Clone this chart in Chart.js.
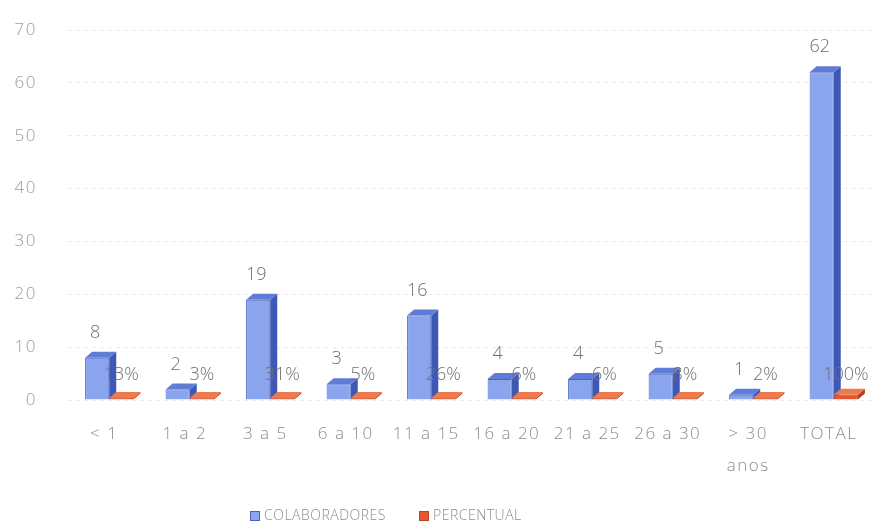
<!DOCTYPE html>
<html>
<head>
<meta charset="utf-8">
<script src="https://cdn.jsdelivr.net/npm/chart.js@4/dist/chart.umd.min.js"></script>
<style>
  html, body { margin: 0; padding: 0; background: #fff; }
  #wrap { width: 875px; height: 528px; position: relative; }
</style>
</head>
<body>
<div id="wrap"><canvas id="chart"></canvas></div>
<script>
const categories = ['< 1', '1 a 2', '3 a 5', '6 a 10', '11 a 15', '16 a 20', '21 a 25', '26 a 30', ['> 30', 'anos'], 'TOTAL']
const colaboradores = [8, 2, 19, 3, 16, 4, 4, 5, 1, 62]
const percentual = [0.13, 0.03, 0.31, 0.05, 0.26, 0.06, 0.06, 0.08, 0.02, 1]
const percentLabels = ['13%', '3%', '31%', '5%', '26%', '6%', '6%', '8%', '2%', '100%']
const yTicks = [0, 10, 20, 30, 40, 50, 60, 70]

const DX = 7
const DY = 6
const faces = [
    { side: '#3d58b5', top: '#5f7dd6' },
    { side: '#b9401c', top: '#ef7a4c' }
]
const FONT = '"Open Sans", sans-serif'

// fake 3D: side + top faces behind the front rectangles
const depthPlugin = {
    id: 'depth',
    beforeDraw(chart) {
        chart.ctx.letterSpacing = '1.5px'
    },
    beforeDatasetsDraw(chart) {
        const ctx = chart.ctx
        chart.data.datasets.forEach((ds, i) => {
            const meta = chart.getDatasetMeta(i)
            meta.data.forEach(bar => {
                const half = bar.width / 2
                const l = bar.x - half
                const r = bar.x + half
                ctx.save()
                ctx.fillStyle = faces[i].side
                ctx.beginPath()
                ctx.moveTo(r, bar.y)
                ctx.lineTo(r + DX, bar.y - DY)
                ctx.lineTo(r + DX, bar.base - DY)
                ctx.lineTo(r, bar.base)
                ctx.closePath()
                ctx.fill()
                ctx.fillStyle = faces[i].top
                ctx.beginPath()
                ctx.moveTo(l, bar.y)
                ctx.lineTo(l + DX, bar.y - DY)
                ctx.lineTo(r + DX, bar.y - DY)
                ctx.lineTo(r, bar.y)
                ctx.closePath()
                ctx.fill()
                ctx.restore()
            })
        })
    }
}

const labelPlugin = {
    id: 'valueLabels',
    afterDatasetsDraw(chart) {
        const ctx = chart.ctx
        ctx.save()
        ctx.letterSpacing = '0px'
        ctx.font = '300 18px ' + FONT
        ctx.fillStyle = '#707070'
        ctx.textAlign = 'center'
        ctx.textBaseline = 'middle'
        chart.getDatasetMeta(0).data.forEach((bar, i) => {
            ctx.fillText(String(colaboradores[i]), bar.x - 2, bar.y - 25)
        })
        chart.getDatasetMeta(1).data.forEach((bar, i) => {
            ctx.fillText(percentLabels[i], bar.x, bar.base - 25)
        })
        ctx.restore()
    }
}

// legend drawn under the plot, a bit left of centre as in the original
const legendPlugin = {
    id: 'bottomLegend',
    afterDraw(chart) {
        const ctx = chart.ctx
        const y = 516
        const items = [
            { x: 250, text: chart.data.datasets[0].label, color: chart.data.datasets[0].backgroundColor, edge: '#4764c4' },
            { x: 419, text: chart.data.datasets[1].label, color: chart.data.datasets[1].backgroundColor, edge: '#c8441e' }
        ]
        ctx.save()
        ctx.letterSpacing = '0.5px'
        ctx.font = '300 14px ' + FONT
        ctx.textBaseline = 'middle'
        ctx.textAlign = 'left'
        items.forEach(it => {
            ctx.fillStyle = it.color
            ctx.fillRect(it.x, y - 5, 10, 10)
            ctx.strokeStyle = it.edge
            ctx.lineWidth = 1
            ctx.strokeRect(it.x + 0.5, y - 4.5, 9, 9)
            ctx.fillStyle = '#8c8c8c'
            ctx.fillText(it.text, it.x + 14, y)
        })
        ctx.restore()
        ctx.letterSpacing = '0px'
    }
}

new Chart(document.getElementById('chart'), {
    type: 'bar',
    data: {
        labels: categories,
        datasets: [
            {
                label: 'COLABORADORES',
                data: colaboradores,
                backgroundColor: '#8aa5ee',
                borderColor: '#4764c4',
                borderWidth: 1
            },
            {
                label: 'PERCENTUAL',
                data: percentual,
                backgroundColor: '#e5582f',
                borderColor: '#c8441e',
                borderWidth: 1,
                minBarLength: 2
            }
        ]
    },
    options: {
        responsive: true,
        maintainAspectRatio: false,
        animation: false,
        layout: { padding: { left: 0, right: 1, top: 30, bottom: 36 } },
        datasets: {
            bar: { categoryPercentage: 0.6, barPercentage: 1 }
        },
        scales: {
            x: {
                grid: { display: false },
                border: { display: false },
                ticks: {
                    color: '#8c8c8c',
                    font: { family: FONT, size: 17, weight: '300', lineHeight: 1.88 },
                    padding: 10,
                    labelOffset: -5,
                    maxRotation: 0,
                    autoSkip: false
                }
            },
            y: {
                min: 0,
                max: 70,
                afterBuildTicks(scale) {
                    scale.ticks = yTicks.map(v => ({ value: v }))
                },
                afterFit(scale) {
                    // fixed axis box; tick padding should not push the plot down
                    scale.width = 69
                    scale.paddingTop = 0
                    scale.paddingBottom = 0
                },
                grid: {
                    color: 'rgba(0,0,0,0.09)',
                    drawTicks: false
                },
                border: { display: false, dash: [3, 5] },
                ticks: {
                    color: '#9a9a9a',
                    font: { family: FONT, size: 17, weight: '300' },
                    padding: 32
                }
            }
        },
        plugins: {
            legend: { display: false },
            tooltip: { enabled: false }
        }
    },
    plugins: [depthPlugin, labelPlugin, legendPlugin]
})
</script>
</body>
</html>
